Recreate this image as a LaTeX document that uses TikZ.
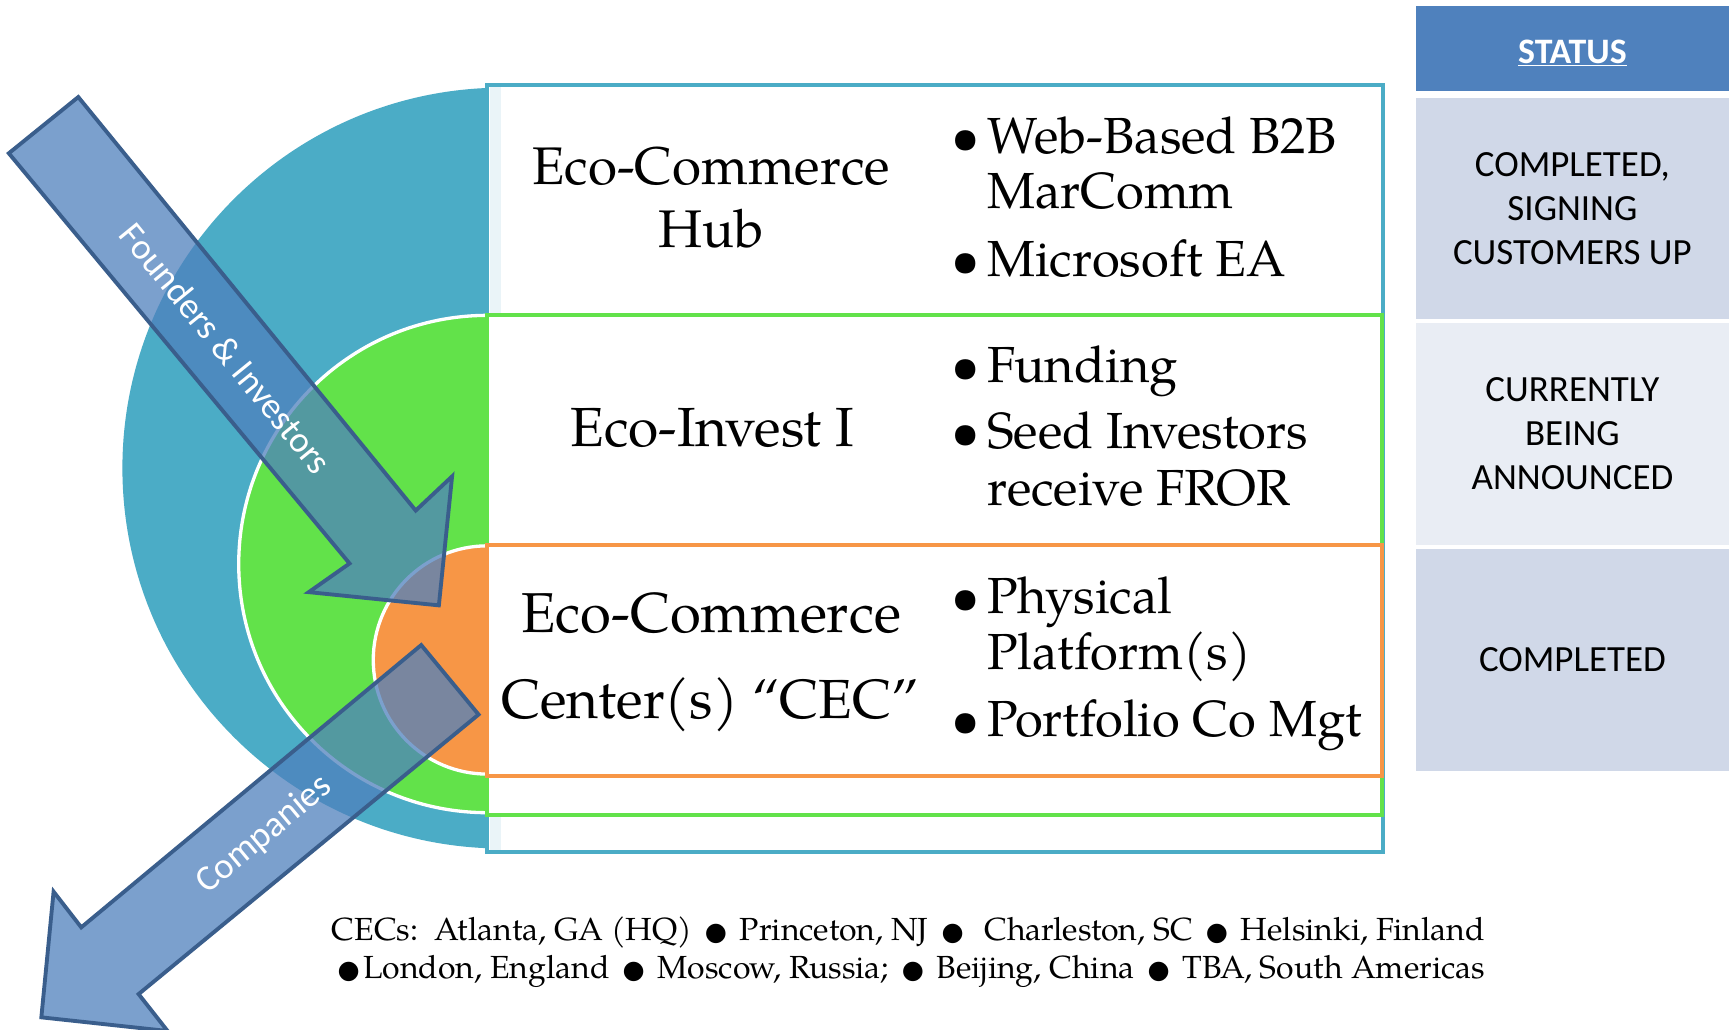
\documentclass[tikz,border=0pt]{standalone}
\usepackage{fontspec}
\setmainfont{TeX Gyre Pagella}
\newfontfamily\carlito{Carlito}
\newfontfamily\dejavu{DejaVu Sans}
\definecolor{cTeal}{HTML}{4BACC6}
\definecolor{cGreen}{HTML}{62E24A}
\definecolor{cOrange}{HTML}{F79646}
\definecolor{cPale}{HTML}{EAF4F8}
\definecolor{cHead}{HTML}{4F81BD}
\definecolor{cRowA}{HTML}{D0D8E8}
\definecolor{cRowB}{HTML}{E9EDF4}
\definecolor{cArrowFill}{HTML}{4F81BD}
\definecolor{cArrowLine}{HTML}{3A5E8C}
\newcommand{\bul}{{\dejavu\fontsize{23}{23}\selectfont ●}}
\newcommand{\bsep}{\hspace{4.5pt}}
\tikzset{
  stagebox/.style={fill=white, line width=3.5pt, anchor=north west, inner sep=0pt, outer sep=0pt},
  statuscell/.style={anchor=north west, inner sep=0pt, outer sep=0pt, minimum width=284pt,
    align=center, text=black, font=\carlito\fontsize{33.5}{40}\selectfont},
  bigarrow/.style={draw=cArrowLine, fill=cArrowFill, fill opacity=0.75, line width=3.5pt, line join=miter},
  arrowlabel/.style={text=white, font=\carlito\fontsize{33}{33}\selectfont, inner sep=0pt},
  stagename/.style={anchor=base, inner sep=0pt, font=\fontsize{48}{56}\selectfont},
  bulletdot/.style={anchor=base, inner sep=0pt, font=\fontsize{46}{56}\selectfont},
  bullettext/.style={anchor=base west, inner sep=0pt, font=\fontsize{46}{56}\selectfont},
  citytext/.style={anchor=base west, inner sep=0pt, font=\fontsize{29}{35}\selectfont},
}
\begin{document}
\begin{tikzpicture}[x=1pt,y=-1pt]
\useasboundingbox (0,0) rectangle (1568,934);
\fill[white] (0,0) rectangle (1568,934);

% concentric disks
\fill[cTeal] (456,424.5) circle (345);
\filldraw[fill=cGreen, draw=white, line width=3pt] (442,511.5) circle (225.5);
\filldraw[fill=cOrange, draw=white, line width=3pt] (442,598.5) circle (103.5);

% stage boxes
\node[stagebox, draw=cTeal, minimum width=812pt, minimum height=696pt] (hubbox) at (442,77) {};
\fill[cPale] (444,79) rectangle (454,284);
\fill[cPale] (444,741) rectangle (454,771);
\node[stagebox, draw=cGreen, minimum width=811pt, minimum height=453pt] (investbox) at (442,286) {};
\node[stagebox, draw=cOrange, minimum width=811pt, minimum height=209pt] (cecbox) at (442,494.5) {};

% stage names
\node[stagename] (hubA) at (645,167) {Eco-Commerce};
\node[stagename] (hubB) at (645,224) {Hub};
\node[stagename, font=\fontsize{50}{56}\selectfont] (invA) at (646,405) {Eco-Invest I};
\node[stagename, font=\fontsize{51}{56}\selectfont] (cecA) at (645,574) {Eco-Commerce};
\node[stagename, font=\fontsize{50}{56}\selectfont] (cecB) at (644,651.5) {Center(s) “CEC”};

% bullets
\node[bulletdot] (b1) at (876,139) {\textbullet};
\node[bullettext] (t1) at (895,139) {Web-Based B2B};
\node[bullettext] (t1b) at (895,189) {MarComm};
\node[bulletdot] (b2) at (876,250.5) {\textbullet};
\node[bullettext] (t2) at (895,250.5) {Microsoft EA};
\node[bulletdot] (b3) at (876,347) {\textbullet};
\node[bullettext] (t3) at (895,347) {Funding};
\node[bulletdot] (b4) at (876,406.5) {\textbullet};
\node[bullettext] (t4) at (895,406.5) {Seed Investors};
\node[bullettext] (t4b) at (895,458) {receive FROR};
\node[bulletdot] (b5) at (876,556) {\textbullet};
\node[bullettext] (t5) at (895,556) {Physical};
\node[bullettext] (t5b) at (895,607.5) {Platform(s)};
\node[bulletdot] (b6) at (876,668) {\textbullet};
\node[bullettext] (t6) at (895,668) {Portfolio Co Mgt};

% big arrows
\path[bigarrow] (71,88) -- (377,463) -- (410,432) -- (398,549) -- (280,537) -- (317,511) -- (8,139) -- cycle;
\node[arrowlabel, rotate=-50.8] (founders) at (205,316) {Founders \& Investors};
\path[bigarrow] (382,585) -- (434,648) -- (125.7,901.5) -- (152,935) -- (37.5,922.6) -- (48.6,808.6) -- (73.7,841) -- cycle;
\node[arrowlabel, rotate=39.7] (companies) at (240,757) {Companies};

% status column
\node[statuscell, fill=cHead, minimum height=77pt] (status) at (1284,5.5) {};
\node[anchor=base, inner sep=0pt, text=white, font=\carlito\bfseries\fontsize{32.5}{40}\selectfont] (statustxt) at (1426,57.5) {\underline{STATUS}};
\node[statuscell, fill=cRowA, minimum height=200pt] (st1) at (1284,89) {COMPLETED,\\SIGNING\\CUSTOMERS UP};
\node[statuscell, fill=cRowB, minimum height=201.5pt] (st2) at (1284,292.5) {CURRENTLY\\BEING\\ANNOUNCED};
\node[statuscell, fill=cRowA, minimum height=202pt] (st3) at (1284,497.5) {COMPLETED};

% city list
\node[citytext] (cities1) at (300.7,852.6) {CECs:\ \ Atlanta, GA (HQ)\bsep{} \bul{} \bsep Princeton, NJ\bsep{} \bul{}\ \ \bsep Charleston, SC\bsep{} \bul{} \bsep Helsinki, Finland};
\node[citytext] (cities2) at (306,887.4) {\bul{}\hspace{3pt}London, England\bsep{} \bul{} \bsep Moscow, Russia;\bsep{} \bul{} \bsep Beijing, China\bsep{} \bul{} \bsep TBA, South Americas};
\end{tikzpicture}
\end{document}
